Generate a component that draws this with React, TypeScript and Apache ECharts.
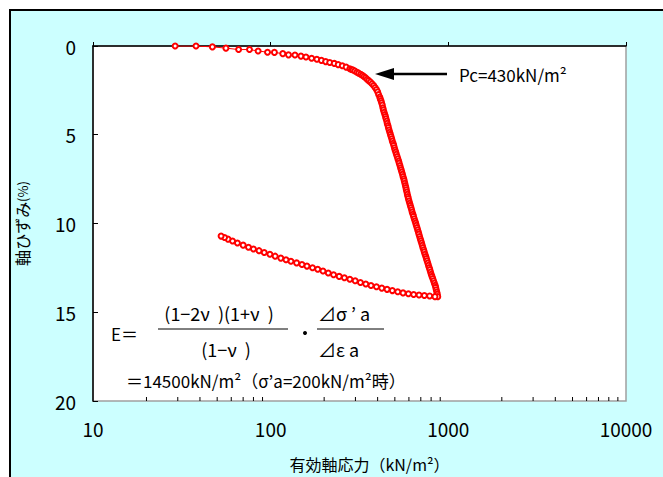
import { useEffect, useRef } from "react";
import * as echarts from "echarts";

// Loading branch: effective axial stress (kN/m2) and axial strain (%)
const loadStress = [29, 38, 47, 56, 66, 76, 85, 96, 105, 117, 126, 137, 148, 158, 170, 182, 193, 204, 215, 228, 240, 253, 266, 279, 285, 291, 298, 306, 313, 321, 328, 335, 342, 349, 356, 364, 372, 380, 387, 394, 400, 405, 411, 414, 418, 421, 425,
  428, 431, 435, 439, 443, 446, 450, 453, 457, 460, 464, 468, 472, 476, 480, 484, 489, 493, 497, 501, 506, 510, 515, 520, 525, 529, 534, 538, 543, 547, 552, 556, 561, 565, 569, 573, 577, 580, 584, 588, 592, 596, 601, 606, 611, 616, 621, 626, 632, 637, 643, 649, 655, 660, 666, 672, 678, 683, 689, 695, 701, 707, 713, 719, 726, 732, 739, 746, 753, 759, 766, 773, 780, 787, 794, 801, 809, 817, 825, 834, 843, 849, 855, 861, 867, 872];
const loadStrain = [0, 0, 0.05, 0.12, 0.2, 0.2, 0.28, 0.35, 0.36, 0.43, 0.5, 0.51, 0.57, 0.62, 0.69, 0.75, 0.81, 0.88, 0.93, 0.98, 1.05, 1.11, 1.19, 1.28, 1.32, 1.35, 1.41, 1.48, 1.53, 1.59, 1.65, 1.72, 1.79, 1.87, 1.95, 2.03, 2.13, 2.23, 2.34, 2.45, 2.58, 2.73, 2.88, 2.98, 3.09, 3.2, 3.33,
  3.48, 3.6, 3.73, 3.86, 3.98, 4.1, 4.23, 4.36, 4.48, 4.6, 4.73, 4.86, 4.98, 5.1, 5.23, 5.36, 5.48, 5.6, 5.73, 5.86, 5.98, 6.1, 6.23, 6.36, 6.48, 6.6, 6.73, 6.86, 6.98, 7.1, 7.23, 7.36, 7.48, 7.6, 7.73, 7.86, 7.98, 8.1, 8.23, 8.36, 8.48, 8.6, 8.73, 8.86, 8.98, 9.1, 9.23, 9.36, 9.48, 9.6, 9.73, 9.86, 9.98, 10.1, 10.23, 10.36, 10.48, 10.6, 10.73, 10.86, 10.98, 11.1, 11.23, 11.36, 11.48, 11.6, 11.73, 11.86, 11.98, 12.1, 12.23, 12.36, 12.48, 12.6, 12.73, 12.86, 12.98, 13.1, 13.23, 13.36, 13.48, 13.6, 13.73, 13.86, 13.98, 14.12];

// Unloading branch
const unloadStress = [841, 785, 733, 684, 638, 596, 556, 519, 484, 452, 422, 394, 367, 343, 320, 299, 279, 260, 243, 226, 211, 197, 184, 172, 160, 150, 140, 130, 122, 114, 106, 99, 92, 86, 80, 75, 70, 65, 61, 57.5, 55, 52.6];
const unloadStrain = [14.12, 14.08, 14.06, 14.03, 14.0, 13.96, 13.91, 13.85, 13.78, 13.71, 13.64, 13.56, 13.49, 13.41, 13.32, 13.23, 13.14, 13.06, 12.98, 12.89, 12.79, 12.68, 12.58, 12.49, 12.4, 12.31, 12.22, 12.13, 12.04, 11.95, 11.84, 11.73, 11.63, 11.53, 11.44, 11.34, 11.22, 11.1, 10.99, 10.88, 10.79, 10.71];

const minorTickValues = [20, 30, 40, 50, 60, 70, 80, 90, 200, 300, 400, 500, 600, 700, 800, 900, 2000, 3000, 4000, 5000, 6000, 7000, 8000, 9000];

const xName = "有効軸応力（kN/m²）";
const yName = "軸ひずみ";
const yUnit = "(%)";
const pcLabel = "Pc=430kN/m²";
const eqLeft = "E＝";
const eqNum1 = "(1−2ν  )(1+ν  )";
const eqDen1 = "(1−ν  )";
const eqNum2 = "⊿σ ’ a";
const eqDen2 = "⊿ε a";
const eqResult = "＝14500kN/m²（σ’a=200kN/m²時）";

const FONT = "'Noto Sans CJK JP', sans-serif";

export default function App() {
  const ref = useRef<HTMLDivElement>(null);
  useEffect(() => {
    const chart = echarts.init(ref.current!, null, { renderer: "svg" });
    const curve = loadStress
      .map((s, i) => [s, loadStrain[i]])
      .concat(unloadStress.map((s, i) => [s, unloadStrain[i]]));
    const txt = (text: string, x: number, y: number, align: string = "left", size = 17, weight = "normal") => ({
      type: "text",
      x,
      y,
      z: 100,
      style: {
        text,
        fill: "#000",
        font: `${weight} ${size}px ${FONT}`,
        textAlign: align,
        textVerticalAlign: "middle",
      },
    });
    const option: any = {
      animation: false,
      backgroundColor: "transparent",
      textStyle: { fontFamily: FONT },
      grid: {
        left: 93,
        top: 46,
        right: 37,
        bottom: 68,
        show: true,
        backgroundColor: "#ffffff",
        borderColor: "#a0a0a0",
        borderWidth: 1.5,
      },
      xAxis: {
        type: "log",
        logBase: 10,
        min: 10,
        max: 10000,
        name: xName,
        nameLocation: "middle",
        nameGap: 55,
        nameTextStyle: { fontSize: 16, color: "#000", fontFamily: FONT, padding: [0, 0, 0, 20] },
        axisLine: { show: true, lineStyle: { color: "#000", width: 1.5 } },
        axisTick: { show: true, inside: true, length: 4, lineStyle: { color: "#000" } },
        axisLabel: {
          fontSize: 19,
          color: "#000",
          margin: 18,
          fontFamily: FONT,
          showMinLabel: true,
          showMaxLabel: true,
          formatter: (v: number) => String(Math.round(v)),
        },
        splitLine: { show: false },
      },
      yAxis: {
        type: "value",
        inverse: true,
        min: 0,
        max: 20,
        interval: 5,
        name: `{a|${yName}}{b|${yUnit}}`,
        nameLocation: "middle",
        nameRotate: 90,
        nameGap: 63,
        nameTextStyle: {
          color: "#000",
          rich: {
            a: { fontSize: 16, fontFamily: FONT, color: "#000" },
            b: { fontSize: 13, fontFamily: FONT, color: "#000" },
          },
        },
        axisLine: { show: true, lineStyle: { color: "#000", width: 1.5 } },
        axisTick: { show: true, inside: true, length: 5, lineStyle: { color: "#000" } },
        axisLabel: { fontSize: 19, color: "#000", margin: 17, fontFamily: FONT },
        splitLine: { show: false },
      },
      series: [
        {
          type: "line",
          data: curve,
          symbol: "emptyCircle",
          symbolSize: 5,
          showAllSymbol: true,
          lineStyle: { color: "#ff0000", width: 1 },
          itemStyle: { color: "#ff0000", borderColor: "#ff0000", borderWidth: 1 },
          z: 5,
        },
        {
          type: "custom",
          silent: true,
          data: minorTickValues.map((v) => [v, 20]),
          encode: { x: 0, y: 1 },
          renderItem: (_p: any, api: any) => {
            const pt = api.coord([api.value(0), api.value(1)]);
            return {
              type: "line",
              shape: { x1: pt[0], y1: pt[1], x2: pt[0], y2: pt[1] - 4 },
              style: { stroke: "#000", lineWidth: 1 },
            };
          },
          z: 3,
        },
      ],
      graphic: [
        { type: "line", z: 100, shape: { x1: 447, y1: 74, x2: 390, y2: 74 }, style: { stroke: "#000", lineWidth: 2.5 } },
        { type: "polygon", z: 100, shape: { points: [[375, 74], [394, 68], [394, 80]] }, style: { fill: "#000" } },
        txt(pcLabel, 459, 74, "left", 17),
        txt(eqLeft, 111, 333, "left", 17),
        txt(eqNum1, 219, 313, "center", 18),
        { type: "line", z: 100, shape: { x1: 158, y1: 329, x2: 288, y2: 329 }, style: { stroke: "#000", lineWidth: 1 } },
        txt(eqDen1, 226, 349, "center", 18),
        { type: "circle", z: 100, shape: { cx: 305, cy: 333, r: 2 }, style: { fill: "#000" } },
        txt(eqNum2, 318, 313, "left", 18),
        { type: "line", z: 100, shape: { x1: 317, y1: 329, x2: 384, y2: 329 }, style: { stroke: "#000", lineWidth: 1 } },
        txt(eqDen2, 318, 349, "left", 18),
        txt(eqResult, 126, 380, "left", 17),
      ],
    };
    chart.setOption(option);
    return () => chart.dispose();
  }, []);
  return (
    <div style={{ position: "fixed", left: 0, top: 0, width: 663, height: 477, background: "#ffffff", overflow: "hidden" }}>
      <div style={{ position: "absolute", left: 9, top: 9, width: 700, height: 500, background: "#CCFFFF", border: "2px solid #000" }} />
      <div ref={ref} style={{ position: "absolute", left: 0, top: 0, width: 663, height: 477 }} />
    </div>
  );
}
